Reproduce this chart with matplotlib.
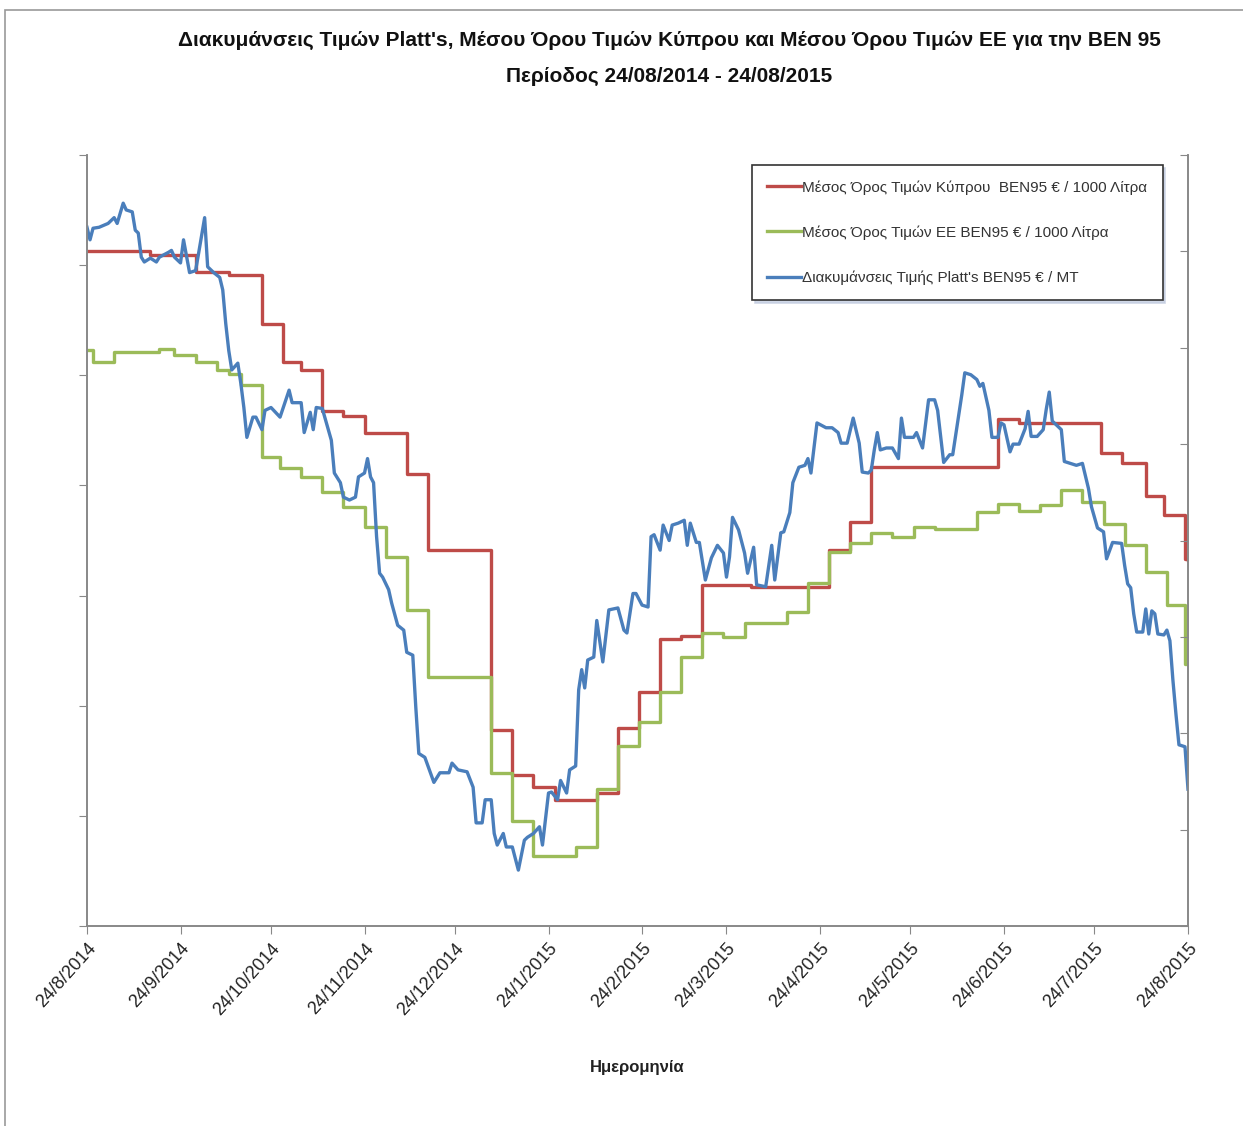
import pandas as pd
import matplotlib
matplotlib.use("Agg")
import matplotlib.pyplot as plt
from matplotlib.patches import Rectangle

FONT = ['Liberation Sans Narrow', 'Liberation Sans', 'DejaVu Sans']
plt.rcParams['font.family'] = FONT

START = pd.Timestamp("2014-08-24")
END = pd.Timestamp("2015-08-24")

# Cyprus average price, BEN95, EUR / 1000 litres (weekly steps, day = days since 24/08/2014)
cyprus_day = [0, 21, 36, 47, 58, 65, 71, 78, 85, 92, 106, 113, 134, 141, 148, 155,
              169, 176, 183, 190, 197, 204, 220, 246, 253, 260, 302, 309, 336, 343,
              351, 357, 364, 365]
cyprus_val = [913, 909, 894, 891, 847, 812, 805, 768, 763, 748, 710, 641, 478, 437, 426, 414,
              421, 480, 512, 561, 563, 610, 608, 641, 667, 717, 760, 757, 729, 720,
              690, 673, 633, 632]

# EU average price, BEN95, EUR / 1000 litres
eu_day = [0, 2, 9, 24, 29, 36, 43, 47, 51, 58, 64, 71, 78, 85, 92, 99, 106, 113, 134, 141,
          148, 162, 169, 176, 183, 190, 197, 204, 211, 218, 232, 239, 246, 253, 260, 267,
          274, 281, 295, 302, 309, 316, 323, 330, 337, 344, 351, 358, 364, 365]
eu_val = [823, 812, 821, 824, 818, 812, 805, 801, 791, 726, 716, 708, 694, 680, 662, 635, 587, 526, 439, 395,
          364, 372, 424, 463, 485, 512, 544, 566, 562, 575, 585, 611, 640, 648, 657, 653,
          662, 660, 676, 683, 677, 682, 696, 685, 665, 646, 621, 591, 538, 538]

# Platt's quotation, BEN95, EUR / MT
platts_day = [0, 1, 2, 4, 7, 8, 9, 10, 12, 13, 15, 16, 17, 18, 19, 21, 23, 24, 27, 28,
              29, 31, 32, 34, 36, 37, 39, 40, 42, 44, 45, 46, 47, 48, 50, 51, 52, 53, 55, 56,
              58, 59, 61, 64, 67, 68, 71, 72, 74, 75, 76, 78, 80, 81, 82, 84, 85, 87, 89, 90,
              92, 93, 94, 95, 96, 97, 98, 100, 101, 103, 105, 106, 108, 109, 110, 112, 115, 117, 120, 121,
              123, 126, 128, 129, 131, 132, 134, 135, 136, 138, 139, 141, 143, 145, 146, 148, 150, 151, 153, 154,
              156, 157, 159, 160, 162, 163, 164, 165, 166, 168, 169, 171, 173, 176, 178, 179, 181, 182, 184, 186,
              187, 188, 190, 191, 193, 194, 196, 198, 199, 200, 202, 203, 205, 207, 209, 211, 212, 213, 214, 216,
              218, 219, 221, 222, 225, 227, 228, 230, 231, 233, 234, 236, 238, 239, 240, 242, 245, 247, 249, 250,
              252, 254, 256, 257, 259, 260, 261, 262, 263, 265, 267, 269, 270, 271, 274, 275, 277, 279, 281, 282,
              284, 286, 287, 290, 291, 293, 295, 296, 297, 299, 300, 302, 303, 304, 306, 307, 309, 311, 312, 313,
              315, 317, 318, 319, 320, 322, 323, 324, 326, 328, 330, 332, 333, 335, 337, 338, 340, 343, 344, 345,
              346, 347, 348, 350, 351, 352, 353, 354, 355, 357, 358, 359, 360, 361, 362, 364, 365]
platts_val = [925, 912, 924, 925, 929, 932, 935, 929, 950, 943, 941, 922, 919, 894, 889, 893, 889, 894, 899, 901,
              894, 888, 912, 878, 880, 898, 935, 884, 878, 873, 860, 825, 797, 777, 784, 763, 738, 707, 728, 728,
              715, 735, 738, 728, 756, 743, 743, 712, 733, 715, 738, 737, 715, 704, 670, 660, 645, 642, 645, 666,
              670, 685, 666, 660, 604, 566, 562, 549, 535, 512, 507, 484, 481, 427, 379, 375, 349, 359, 359, 369,
              362, 360, 344, 307, 307, 331, 331, 296, 284, 296, 282, 282, 258, 289, 292, 296, 303, 284, 338, 339,
              331, 351, 338, 362, 366, 445, 466, 447, 476, 479, 517, 474, 528, 530, 507, 504, 545, 545, 533, 531,
              604, 606, 590, 616, 600, 616, 618, 621, 595, 618, 598, 598, 559, 582, 595, 587, 562, 583, 624, 611,
              587, 566, 593, 554, 552, 595, 559, 608, 609, 629, 660, 676, 678, 685, 670, 722, 717, 717, 712, 701,
              701, 727, 701, 671, 670, 673, 694, 712, 694, 696, 696, 685, 727, 707, 707, 712, 696, 746, 746, 735,
              681, 689, 689, 751, 774, 772, 767, 760, 763, 735, 707, 707, 722, 720, 692, 700, 700, 716, 734, 708,
              708, 715, 736, 754, 724, 718, 715, 682, 680, 678, 680, 654, 635, 613, 609, 581, 598, 597, 574, 555,
              551, 524, 505, 505, 529, 503, 527, 524, 503, 502, 507, 496, 455, 420, 388, 386, 342]

legend_labels = ["Μέσος Όρος Τιμών Κύπρου  BEN95 € / 1000 Λίτρα",
                 "Μέσος Όρος Τιμών ΕΕ BEN95 € / 1000 Λίτρα",
                 "Διακυμάνσεις Τιμής Platt's BEN95 € / MT"]
title_1 = "Διακυμάνσεις Τιμών Platt's, Μέσου Όρου Τιμών Κύπρου και Μέσου Όρου Τιμών ΕΕ για την BEN 95"
title_2 = "Περίοδος 24/08/2014 - 24/08/2015"

RED, GREEN, BLUE = "#BE4B48", "#9BBB59", "#4A7EBB"
GRAY = "#888888"

cyprus_dates = START + pd.to_timedelta(cyprus_day, unit="D")
eu_dates = START + pd.to_timedelta(eu_day, unit="D")
platts_dates = START + pd.to_timedelta(platts_day, unit="D")

fig = plt.figure(figsize=(12.43, 11.26), dpi=100)
ax = fig.add_axes([87 / 1243, 1 - 926 / 1126, (1188 - 87) / 1243, (926 - 155) / 1126])
ax2 = ax.twinx()

l1, = ax.plot(cyprus_dates, cyprus_val, color=RED, lw=2.4, drawstyle="steps-post")
l2, = ax.plot(eu_dates, eu_val, color=GREEN, lw=2.4, drawstyle="steps-post")
l3, = ax2.plot(platts_dates, platts_val, color=BLUE, lw=2.4)

ax.set_xlim(START, END)
ax.set_ylim(300, 1000)
ax2.set_ylim(200, 1000)
ax.set_yticks(range(300, 1001, 100))
ax2.set_yticks(range(200, 1001, 100))
ax.set_yticklabels([])
ax2.set_yticklabels([])

tick_dates = [START + pd.DateOffset(months=i) for i in range(13)]
ax.set_xticks(tick_dates)
ax.set_xticklabels([f"{d.day}/{d.month}/{d.year}" for d in tick_dates],
                   rotation=48, ha="right", rotation_mode="anchor", fontsize=13, color="#222222")

for a in (ax, ax2):
    a.spines["top"].set_visible(False)
    for s in ("left", "right", "bottom"):
        a.spines[s].set_color(GRAY)
        a.spines[s].set_linewidth(1.2)
ax.tick_params(axis="y", direction="out", length=6, color=GRAY)
ax.tick_params(axis="x", direction="out", length=6, color=GRAY, pad=4)
ax2.tick_params(axis="y", direction="in", length=6, color=GRAY)

ax.set_xlabel("Ημερομηνία", fontsize=12, fontweight="bold", labelpad=30, color="#222222")

leg = ax2.legend([l1, l2, l3], legend_labels, loc="upper left",
                 bbox_to_anchor=(752 / 1243, 1 - 165 / 1126), bbox_transform=fig.transFigure,
                 borderaxespad=0, fontsize=11, handlelength=2.2, handletextpad=0.1,
                 labelspacing=2.0, borderpad=1.0, fancybox=False, framealpha=1,
                 shadow={"color": "#c4cde0", "alpha": 0.8})
leg.get_frame().set_edgecolor("#333333")
leg.get_frame().set_linewidth(1.2)
for t in leg.get_texts():
    t.set_color("#333333")

fig.text(669 / 1243, 1 - 40 / 1126, title_1, ha="center", va="center",
         fontsize=15, fontweight="bold", color="#111111")
fig.text(669 / 1243, 1 - 76 / 1126, title_2, ha="center", va="center",
         fontsize=15, fontweight="bold", color="#111111")

# chart area border (only top and left edges visible in the crop)
fig.patches.append(Rectangle((5 / 1243, -0.1), 1.2, 1.1 - 10 / 1126, transform=fig.transFigure,
                             fill=False, edgecolor="#999999", linewidth=1.2))

fig.savefig("out.png", dpi=100)
